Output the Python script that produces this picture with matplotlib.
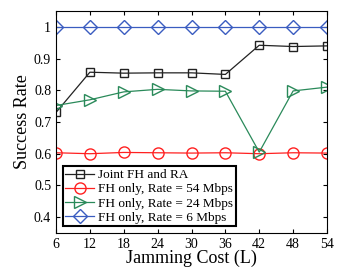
import matplotlib
matplotlib.use("Agg")
import matplotlib.pyplot as plt

plt.rcParams["font.family"] = ["Liberation Serif", "DejaVu Serif"]

cost = [6, 12, 18, 24, 30, 36, 42, 48, 54]
joint = [0.73, 0.857, 0.854, 0.855, 0.855, 0.850, 0.942, 0.938, 0.940]
fh54 = [0.603, 0.600, 0.604, 0.603, 0.602, 0.603, 0.600, 0.603, 0.602]
fh24 = [0.752, 0.770, 0.795, 0.803, 0.798, 0.797, 0.605, 0.798, 0.810]
fh6 = [1.0] * 9

fig = plt.figure(figsize=(3.53, 2.67), dpi=100)
ax = fig.add_axes([56 / 353, 1 - 233 / 267, 271 / 353, 222 / 267])

ax.plot(cost, joint, "-s", color="#222222", mfc="none", mec="#222222", ms=6, lw=0.9,
        label="Joint FH and RA")
ax.plot(cost, fh54, "-o", color="#ff2020", mfc="none", ms=8, lw=0.9,
        label="FH only, Rate = 54 Mbps")
ax.plot(cost, fh24, "->", color="#2a8a5a", mfc="none", ms=8, lw=0.9,
        label="FH only, Rate = 24 Mbps")
ax.plot(cost, fh6, "-D", color="#3a5cc0", mfc="none", ms=7, lw=0.9,
        label="FH only, Rate = 6 Mbps")

ax.set_xlim(6, 54)
ax.set_ylim(0.35, 1.05)
ax.set_xticks(cost)
ax.set_yticks([0.4, 0.5, 0.6, 0.7, 0.8, 0.9, 1.0])
ax.set_yticklabels(["0.4", "0.5", "0.6", "0.7", "0.8", "0.9", "1"])
ax.tick_params(direction="in", labelsize=10, length=3, top=True, right=True)
ax.set_xlabel("Jamming Cost (L)", fontsize=13, labelpad=-1)
ax.set_ylabel("Success Rate", fontsize=13, labelpad=2)

leg = ax.legend(loc="lower left", fontsize=9.5, handlelength=2.2, borderpad=0.2,
                labelspacing=0.15, handletextpad=0.3, fancybox=False,
                framealpha=1, bbox_to_anchor=(0.0, 0.0))
leg.get_frame().set_edgecolor("black")
leg.get_frame().set_linewidth(1.5)

fig.savefig("out.png", dpi=100)
